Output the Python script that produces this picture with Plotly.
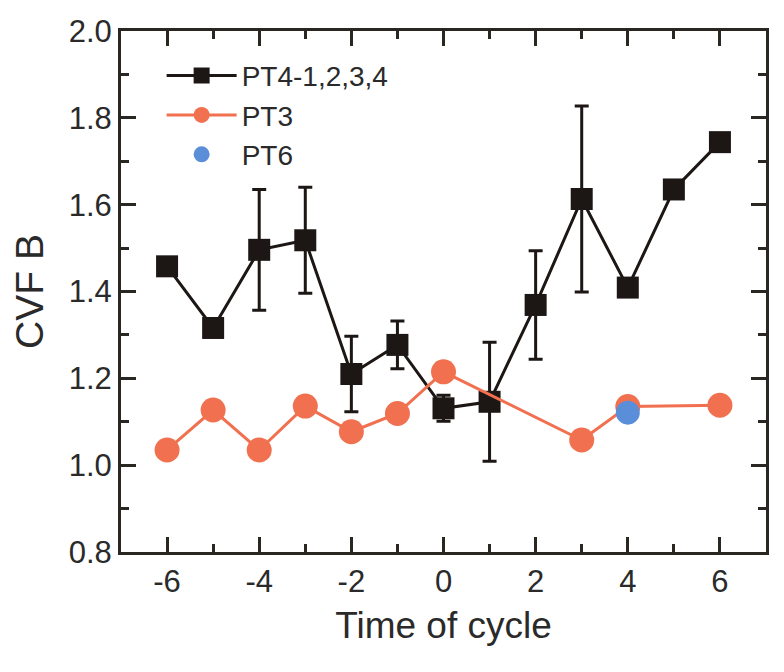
import plotly.graph_objects as go

# Data
pt4_x = [-6, -5, -4, -3, -2, -1, 0, 1, 2, 3, 4, 5, 6]
pt4_y = [1.458, 1.316, 1.496, 1.518, 1.210, 1.277, 1.131, 1.146, 1.369, 1.613, 1.409, 1.635, 1.744]
pt4_err = [0, 0, 0.139, 0.122, 0.087, 0.055, 0.03, 0.137, 0.125, 0.214, 0.02, 0, 0]

pt3_x = [-6, -5, -4, -3, -2, -1, 0, 3, 4, 6]
pt3_y = [1.035, 1.127, 1.035, 1.136, 1.077, 1.119, 1.215, 1.058, 1.135, 1.138]

pt6_x = [4]
pt6_y = [1.121]

x_ticks = [-6, -4, -2, 0, 2, 4, 6]
y_ticks = [0.8, 1.0, 1.2, 1.4, 1.6, 1.8, 2.0]

BLACK = "#1c1714"
ORANGE = "#f0704f"
BLUE = "#5a8ed8"
AXIS = "#2a2622"
FONT = "Liberation Sans, Arial, sans-serif"

fig = go.Figure()
fig.add_trace(go.Scatter(
    x=pt4_x, y=pt4_y, mode="lines+markers", name="PT4-1,2,3,4",
    line=dict(color=BLACK, width=3),
    marker=dict(symbol="square", size=22, color=BLACK),
    error_y=dict(type="data", array=pt4_err, color=BLACK, thickness=3, width=7),
))
fig.add_trace(go.Scatter(
    x=pt3_x, y=pt3_y, mode="lines+markers", name="PT3",
    line=dict(color=ORANGE, width=3),
    marker=dict(symbol="circle", size=25, color=ORANGE),
))
fig.add_trace(go.Scatter(
    x=pt6_x, y=pt6_y, mode="markers", name="PT6",
    marker=dict(symbol="circle", size=24, color=BLUE),
))

axis_common = dict(
    showline=True, linewidth=3, linecolor=AXIS, mirror="ticks",
    ticks="inside", ticklen=15, tickwidth=3, tickcolor=AXIS,
    showgrid=False, zeroline=False, automargin=False,
    tickfont=dict(family=FONT, size=31, color="#2a2a2a"),
)

fig.update_xaxes(
    range=[-7, 7], tickvals=x_ticks, ticktext=[str(v) for v in x_ticks],
    minor=dict(ticks="inside", ticklen=8, tickwidth=3, tickcolor=AXIS, dtick=1, tick0=0),
    title=dict(text="Time of cycle", font=dict(family=FONT, size=37, color="#2a2a2a"), standoff=14),
    **axis_common,
)
fig.update_yaxes(
    range=[0.8, 2.0], tickvals=y_ticks, ticktext=[f"{v:.1f}" for v in y_ticks],
    minor=dict(ticks="inside", ticklen=8, tickwidth=3, tickcolor=AXIS, dtick=0.1, tick0=0.8),
    title=dict(text="CVF B", font=dict(family=FONT, size=39, color="#2a2a2a"), standoff=20),
    **axis_common,
)

# page body has an 8px default margin, so the figure is sized to fit the window
fig.update_layout(
    width=776, height=664,
    margin=dict(l=113, r=18, t=23, b=120),
    paper_bgcolor="white", plot_bgcolor="white",
    showlegend=True,
    legend=dict(
        x=0.063, y=0.962, xanchor="left", yanchor="top",
        font=dict(family=FONT, size=28, color="#2a2a2a"),
        bgcolor="rgba(0,0,0,0)", itemwidth=70, tracegroupgap=0,
    ),
)

fig.write_html("out.html")
